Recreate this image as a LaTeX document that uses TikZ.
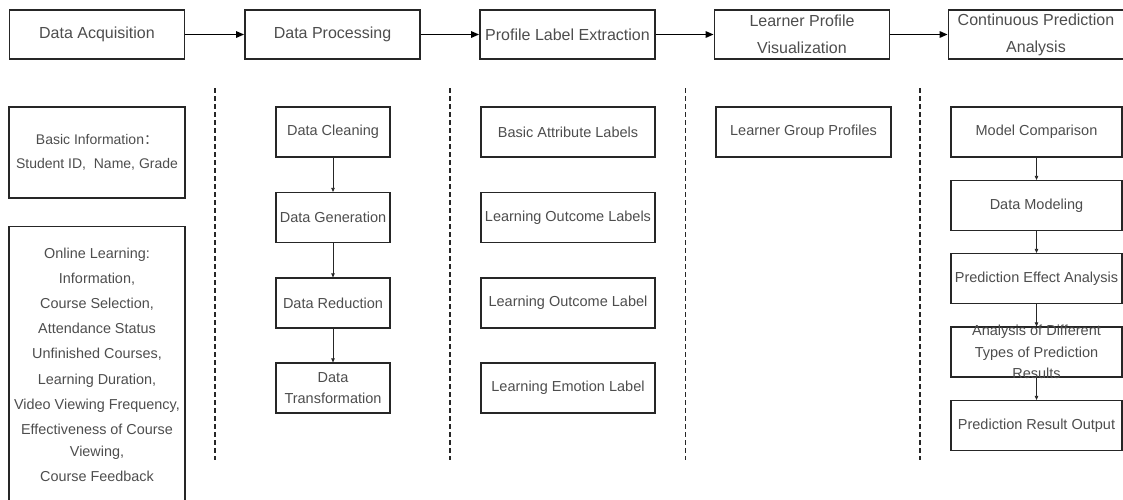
\documentclass[tikz,border=0pt]{standalone}
\usepackage{fontspec}
\setmainfont{Liberation Sans}
\newfontfamily\cjk{Noto Sans CJK SC}
\usepackage{tikz}
\usetikzlibrary{arrows.meta,positioning}
\definecolor{linegray}{HTML}{262626}
\definecolor{textgray}{HTML}{4D4D4D}

\begin{document}
\begin{tikzpicture}[x=1pt,y=-1pt,
    stage/.style={draw=linegray,line width=1.8pt,minimum width=175pt,minimum height=49pt,
      inner sep=0pt,align=center,text=textgray,font=\fontsize{16}{27}\selectfont},
    item/.style={draw=linegray,line width=1.2pt,minimum height=50pt,inner sep=0pt,
      align=center,text=textgray,font=\fontsize{14.5}{21.5}\selectfont},
    flow/.style={-{Triangle[length=8pt,width=6.5pt]},line width=1.5pt,draw=black},
    link/.style={-{Triangle[length=4pt,width=3.5pt]},line width=0.7pt,draw=linegray},
    divider/.style={linegray,line width=1.3pt,dash pattern=on 5pt off 3pt}]
        \useasboundingbox (0,0) rectangle (1123,499);
        % Stages along the top
        \node[stage] (acq) at (97,34.5) {Data Acquisition};
        \node[stage] (proc) at (332.5,34.5) {Data Processing};
        \node[stage] (extr) at (567.5,34.5) {Profile Label Extraction};
        \node[stage] (vis) at (802,34.5) {Learner Profile\\Visualization};
        \node[stage] (pred) at (1036,34.5) {Continuous Prediction\\Analysis};
        \draw[flow] (acq) -- (proc);
        \draw[flow] (proc) -- (extr);
        \draw[flow] (extr) -- (vis);
        \draw[flow] (vis) -- (pred);
        % Column dividers
        \foreach \x in {215,450,685.5,920}
          \draw[divider] (\x,88) -- (\x,460);
        % Acquisition: source data
        \node[item,minimum width=176pt,minimum height=91pt,font=\fontsize{14}{24}\selectfont]
          (basic) at (97,152.5) {Basic Information{\cjk ：}\\Student ID,\ \ Name, Grade};
        \node[item,minimum width=176pt,anchor=north,inner ysep=21pt,font=\fontsize{14.4}{25.2}\selectfont]
          (online) at (97,226) {Online Learning:\\Information,\\Course Selection,\\Attendance Status\\
          Unfinished Courses,\\Learning Duration,\\Video Viewing Frequency,\\
          Effectiveness of Course\\[-3.2pt]Viewing,\\Course Feedback};
        % Processing steps
        \node[item,minimum width=114pt] (clean) at (333,132) {Data Cleaning};
        \node[item,minimum width=114pt] (gen) at (333,217.5) {Data Generation};
        \node[item,minimum width=114pt] (red) at (333,303) {Data Reduction};
        \node[item,minimum width=114pt] (trans) at (333,388) {Data\\Transformation};
        \draw[link] (clean) -- (gen);
        \draw[link] (gen) -- (red);
        \draw[link] (red) -- (trans);
        % Extracted labels
        \node[item,minimum width=174pt] (attr) at (568,132) {Basic Attribute Labels};
        \node[item,minimum width=174pt] (outs) at (568,217.5) {Learning Outcome Labels};
        \node[item,minimum width=174pt] (out) at (568,303) {Learning Outcome Label};
        \node[item,minimum width=174pt] (emo) at (568,388) {Learning Emotion Label};
        % Visualization
        \node[item,minimum width=175pt] (group) at (803.5,132) {Learner Group Profiles};
        % Prediction steps
        \node[item,minimum width=171pt] (cmp) at (1036.5,132) {Model Comparison};
        \node[item,minimum width=171pt] (model) at (1036.5,205.5) {Data Modeling};
        \node[item,minimum width=171pt] (effect) at (1036.5,278.5) {Prediction Effect Analysis};
        \node[item,minimum width=171pt] (kinds) at (1036.5,352) {};
        \node[item,draw=none] (kindstext) at (kinds) {Analysis of Different\\Types of Prediction\\Results};
        \node[item,minimum width=171pt] (output) at (1036.5,425.5) {Prediction Result Output};
        \draw[link] (cmp) -- (model);
        \draw[link] (model) -- (effect);
        \draw[link] (effect) -- (kinds);
        \draw[link] (kinds) -- (output);
\end{tikzpicture}
\end{document}
